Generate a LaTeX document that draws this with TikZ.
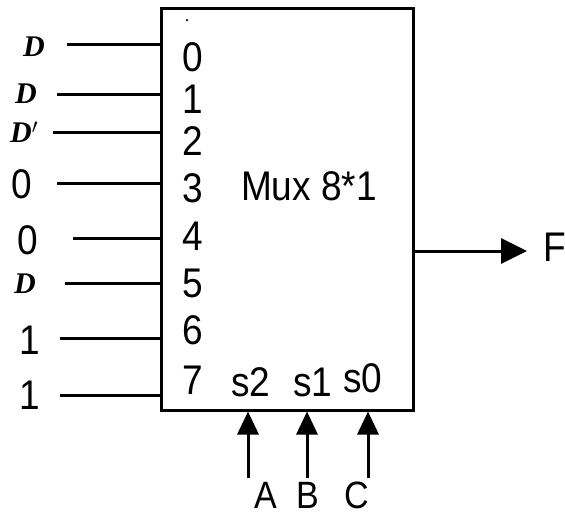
\documentclass[tikz,border=0pt]{standalone}
\usepackage{fontspec}
\setmainfont{Liberation Sans}
\newfontfamily\dfont{Liberation Serif}
\usetikzlibrary{arrows.meta}
\newcommand\tx[1]{\scalebox{1}[1.12]{#1}}
\begin{document}
\begin{tikzpicture}[x=1pt,y=-1pt,
  wire/.style={line width=3pt},
  sig/.style={line width=3pt,-{Triangle[length=23pt,width=21pt]}},
  osig/.style={line width=3pt,-{Triangle[length=26pt,width=25pt]}},
  lab/.style={inner sep=0pt,font=\fontsize{37}{37}\selectfont},
  slab/.style={inner sep=0pt,font=\fontsize{34}{34}\selectfont},
  dlab/.style={inner sep=0pt,font=\dfont\bfseries\itshape\fontsize{30}{30}\selectfont}]
\useasboundingbox (0,0) rectangle (565,515);
\node[draw,line width=3pt,minimum width=252pt,minimum height=402pt,inner sep=0pt] (mux) at (287,209) {};
\node[lab] (title) at (309,186) {\tx{Mux 8*1}};
\node[circle,fill,inner sep=0pt,minimum size=2.5pt] (dot) at (187,20) {};
% input pins
\foreach \i/\yl/\yn/\xs in {0/44/57/67, 1/94/99/57, 2/132/141/53, 3/183/188/57, 4/238/236/73, 5/283/283/65, 6/338/330/60, 7/395/380/60}{
  \coordinate (s\i) at (\xs,\yl);
  \draw[wire] (s\i) -- (s\i -| mux.west);
  \node[lab] (n\i) at (193,\yn) {\tx{\i}};
}
% input values
\node[dlab] (v0) at (34,47) {D};
\node[dlab] (v1) at (26,94) {D};
\node[dlab,anchor=west] (v2) at (10,132) {D$'$};
\node[lab] (v3) at (22,184) {\tx{0}};
\node[lab] (v4) at (28,240) {\tx{0}};
\node[dlab] (v5) at (25,284) {D};
\node[lab] (v6) at (30,340) {\tx{1}};
\node[lab] (v7) at (30,395) {\tx{1}};
% select
\node[lab] (p2) at (251,382) {\tx{s2}};
\node[lab] (p1) at (313,382) {\tx{s1}};
\node[lab] (p0) at (363,378) {\tx{s0}};
\coordinate (a2) at (248,478);
\coordinate (a1) at (307,478);
\coordinate (a0) at (368,478);
\draw[sig] (a2) -- (a2 |- mux.south);
\draw[sig] (a1) -- (a1 |- mux.south);
\draw[sig] (a0) -- (a0 |- mux.south);
\node[slab] (A) at (266,495) {\tx{A}};
\node[slab] (B) at (308,495) {\tx{B}};
\node[slab] (C) at (357,495) {\tx{C}};
% output
\coordinate (o) at (mux.east |- 0,251);
\coordinate (ot) at (527,251);
\draw[osig] (o) -- (ot);
\node[lab] (F) at (555,247) {\tx{F}};
\end{tikzpicture}
\end{document}
